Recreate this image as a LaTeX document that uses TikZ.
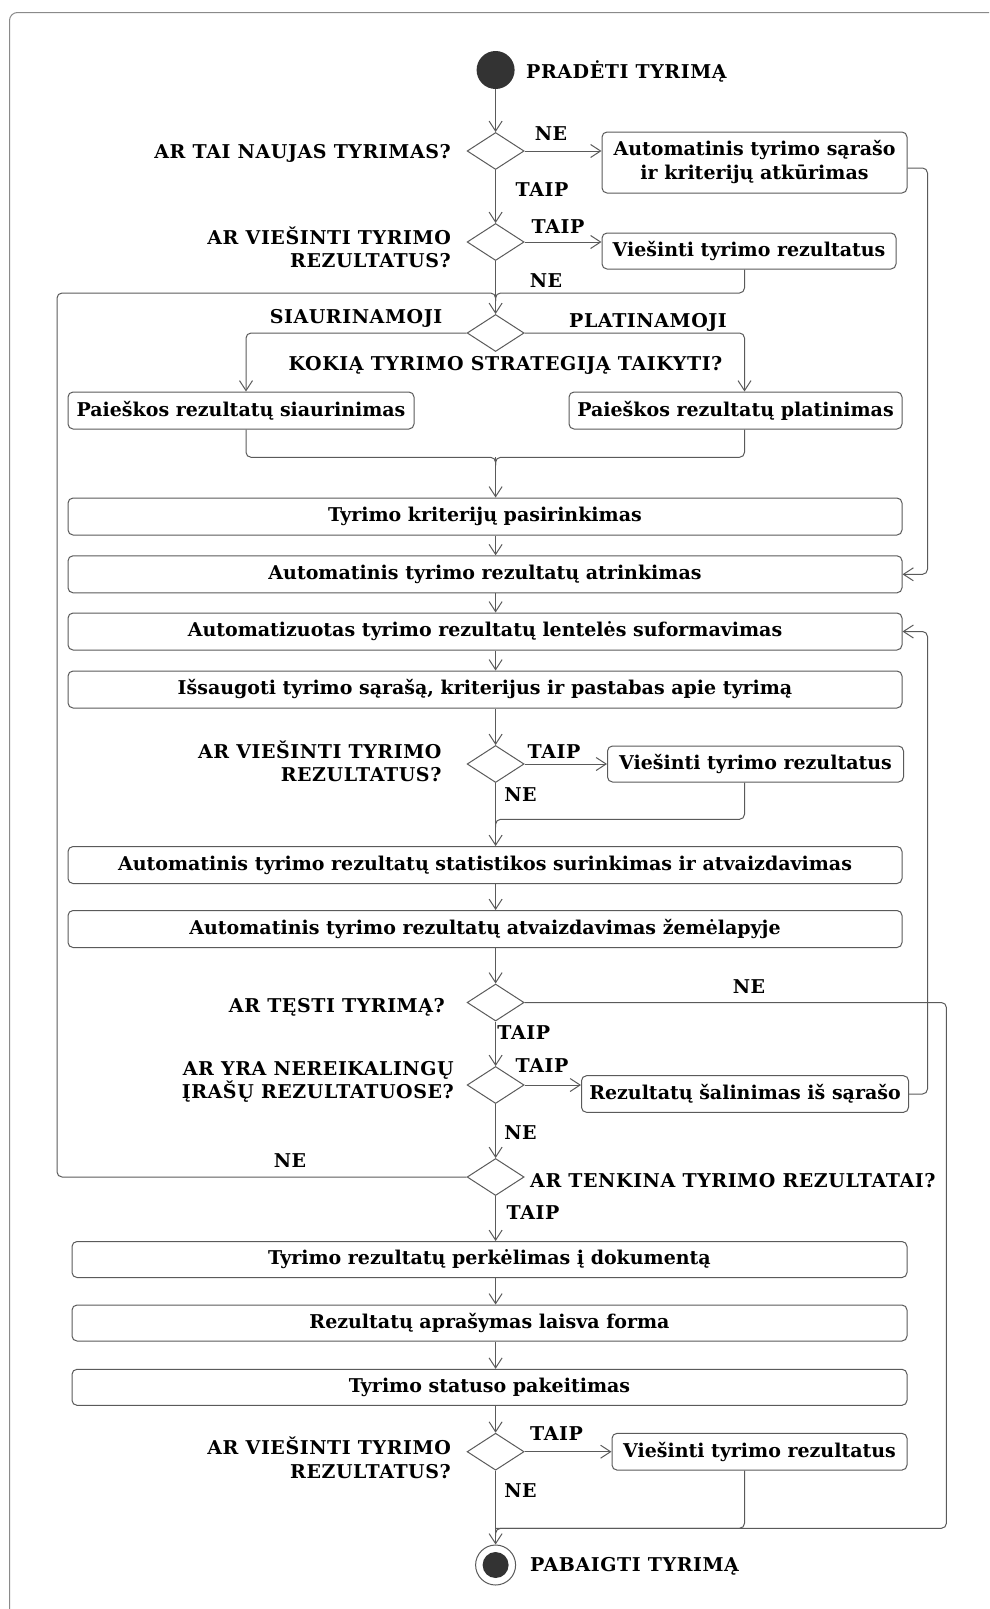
\documentclass[tikz,border=0pt]{standalone}
\usepackage{fontspec}
\setmainfont{DejaVu Serif}
\usetikzlibrary{arrows.meta,shapes.geometric,calc}
\definecolor{linec}{HTML}{5A5A5A}
\definecolor{framec}{HTML}{8A8A8A}
\definecolor{dotc}{HTML}{333333}
\begin{document}
\begin{tikzpicture}[x=1pt,y=-1pt,
  font=\fontsize{19}{24}\selectfont\bfseries,
  act/.style={draw=linec,line width=1pt,rounded corners=5pt,inner sep=0pt,align=center,fill=white},
  dec/.style={draw=linec,line width=1pt,diamond,minimum width=57pt,minimum height=37pt,inner sep=0pt},
  flow/.style={draw=linec,line width=1pt,rounded corners=5pt},
  arr/.style={flow,-{Straight Barb[length=10pt,width=13pt]}},
  lbl/.style={inner sep=0pt,text=black,font=\fontsize{19}{23.5}\selectfont\bfseries\addfontfeature{LetterSpace=3.0}},
]
\useasboundingbox (0,0) rectangle (989,1609);
\begin{scope}
\clip (0,0) rectangle (989,1609);
\draw[draw=framec,line width=1pt,rounded corners=8pt] (9.5,12.5) rectangle (1030,1650);
\end{scope}

% helper coordinates
\coordinate (xR1) at (927.5,0);
\coordinate (xR2) at (946.4,0);
\coordinate (xL) at (57,0);
\coordinate (xB) at (744.5,0);
\coordinate (m1) at (495.6,293);
\coordinate (m2) at (495.6,457.3);
\coordinate (m3) at (495.6,819.3);
\coordinate (m5) at (495.6,1528.3);

% start
\node[circle,fill=dotc,minimum size=38pt,inner sep=0pt] (start) at (495.6,70) {};
\node[lbl,anchor=west] (startlbl) at (526,71.5) {PRADĖTI TYRIMĄ};

% decision 1
\node[dec] (d1) at (495.6,151) {};
\node[lbl,anchor=east] (d1lbl) at (451,153.5) {AR TAI NAUJAS TYRIMAS?};
\node[act,minimum width=305pt,minimum height=61pt] (b1) at (754.5,162.5) {Automatinis tyrimo sąrašo\\ir kriterijų atkūrimas};

% decision 2
\node[dec] (d2) at (495.6,242) {};
\node[lbl,anchor=east,align=right] (d2lbl) at (451,247.5) {AR VIEŠINTI TYRIMO\\REZULTATUS?};
\node[act,minimum width=294pt,minimum height=36pt] (b2) at (749,251) {Viešinti tyrimo rezultatus};

% decision 3
\node[dec] (d3) at (495.6,333) {};
\node[lbl] (l3a) at (356,318) {SIAURINAMOJI};
\node[lbl] (l3b) at (648,322) {PLATINAMOJI};
\node[lbl] (d3lbl) at (505.5,365) {KOKIĄ TYRIMO STRATEGIJĄ TAIKYTI?};
\node[act,minimum width=346pt,minimum height=37pt] (b4) at (241,410.5) {Paieškos rezultatų siaurinimas};
\node[act,minimum width=333pt,minimum height=37pt] (b5) at (735.5,410.5) {Paieškos rezultatų platinimas};

% main boxes
\node[act,minimum width=834pt,minimum height=37pt] (b6) at (485,516.5) {Tyrimo kriterijų pasirinkimas};
\node[act,minimum width=834pt,minimum height=37pt] (b7) at (485,574.3) {Automatinis tyrimo rezultatų atrinkimas};
\node[act,minimum width=834pt,minimum height=37pt] (b8) at (485,631.5) {Automatizuotas tyrimo rezultatų lentelės suformavimas};
\node[act,minimum width=834pt,minimum height=37pt] (b9) at (485,689.5) {Išsaugoti tyrimo sąrašą, kriterijus ir pastabas apie tyrimą};

% decision 4
\node[dec] (d4) at (495.6,764) {};
\node[lbl,anchor=east,align=right] (d4lbl) at (441.6,761.5) {AR VIEŠINTI TYRIMO\\REZULTATUS?};
\node[act,minimum width=296pt,minimum height=36pt] (b10) at (755.5,764) {Viešinti tyrimo rezultatus};

\node[act,minimum width=834pt,minimum height=37pt] (b11) at (485,865) {Automatinis tyrimo rezultatų statistikos surinkimas ir atvaizdavimas};
\node[act,minimum width=834pt,minimum height=37pt] (b12) at (485,929) {Automatinis tyrimo rezultatų atvaizdavimas žemėlapyje};

% decision 5
\node[dec] (d5) at (495.6,1002.5) {};
\node[lbl,anchor=east] (d5lbl) at (445,1007.5) {AR TĘSTI TYRIMĄ?};

% decision 6
\node[dec] (d6) at (495.6,1085) {};
\node[lbl,anchor=east,align=right] (d6lbl) at (454,1082) {AR YRA NEREIKALINGŲ\\ĮRAŠŲ REZULTATUOSE?};
\node[act,minimum width=327pt,minimum height=36.6pt] (b13) at (745,1094) {Rezultatų šalinimas iš sąrašo};

% decision 7
\node[dec] (d7) at (495.6,1177) {};
\node[lbl,anchor=west] (d7lbl) at (530,1181) {AR TENKINA TYRIMO REZULTATAI?};

\node[act,minimum width=835pt,minimum height=36pt] (b14) at (489.5,1259.5) {Tyrimo rezultatų perkėlimas į dokumentą};
\node[act,minimum width=835pt,minimum height=36pt] (b15) at (489.5,1323) {Rezultatų aprašymas laisva forma};
\node[act,minimum width=835pt,minimum height=36pt] (b16) at (489.5,1387.3) {Tyrimo statuso pakeitimas};

% decision 8
\node[dec] (d8) at (495.6,1451.7) {};
\node[lbl,anchor=east,align=right] (d8lbl) at (451,1457.7) {AR VIEŠINTI TYRIMO\\REZULTATUS?};
\node[act,minimum width=295pt,minimum height=36.7pt] (b17) at (759.5,1451.7) {Viešinti tyrimo rezultatus};

% end
\node[circle,draw=linec,line width=1pt,fill=white,minimum size=40pt,inner sep=0pt] (end) at (495.6,1565) {};
\fill[dotc] (end.center) circle (13pt);
\node[lbl,anchor=west] (endlbl) at (530,1566.5) {PABAIGTI TYRIMĄ};

% connectors
\draw[arr] (start) -- (d1);
\draw[arr] (d1.east) -- (d1.east -| b1.west);
\node[lbl] (ne1) at (551,134) {NE};
\draw[arr] ([yshift=-5.5pt]b1.east) -| (b7.east -| xR1) -- (b7.east);
\draw[arr] (d1) -- (d2);
\node[lbl] (taip1) at (542,190) {TAIP};
\draw[arr] (d2.east) -- (d2.east -| b2.west);
\node[lbl] (taip2) at (558,227) {TAIP};
\draw[flow] (b2.south -| xB) |- (m1) -- ++(0,8);
\draw[arr] (d2) -- (d3);
\node[lbl] (ne2) at (546,281) {NE};
\draw[flow] (d7.west) -| (xL |- m1) -- (m1) -- ++(0,8);

\draw[arr] (d3.west) -| ([xshift=5pt]b4.north);
\draw[arr] (d3.east) -| ([xshift=9pt]b5.north);
\draw[flow] ([xshift=5pt]b4.south) |- (m2) -- ++(0,8);
\draw[flow] ([xshift=9pt]b5.south) |- (m2) -- ++(0,8);
\draw[arr] (m2) -- (b6.north -| m2);

\draw[arr] (b6.south -| start) -- (b7.north -| start);
\draw[arr] (b7.south -| start) -- (b8.north -| start);
\draw[arr] (b8.south -| start) -- (b9.north -| start);
\draw[arr] (b9.south -| start) -- (d4.north);
\draw[arr] (d4.east) -- (d4.east -| b10.west);
\node[lbl] (taip4) at (554,751.5) {TAIP};
\draw[flow] (b10.south -| xB) |- (m3) -- ++(0,8);
\draw[arr] (d4.south) -- (b11.north -| start);
\node[lbl] (ne4) at (520.5,795) {NE};
\draw[arr] (b11.south -| start) -- (b12.north -| start);
\draw[arr] (b12.south -| start) -- (d5.north);

\draw[flow] (d5.east) -| (xR2 |- m5) -- (m5) -- ++(0,8);
\node[lbl] (ne5) at (749,987) {NE};
\draw[arr] (d5) -- (d6);
\node[lbl] (taip5) at (523.7,1033) {TAIP};
\draw[arr] (d6.east) -- (d6.east -| b13.west);
\node[lbl] (taip6) at (542,1066) {TAIP};
\draw[arr] (b13.east) -| (b8.east -| xR1) -- (b8.east);
\draw[arr] (d6) -- (d7);
\node[lbl] (ne6) at (520.5,1133) {NE};
\node[lbl] (ne7) at (290,1161) {NE};
\draw[arr] (d7.south) -- (b14.north -| start);
\node[lbl] (taip7) at (533,1213) {TAIP};
\draw[arr] (b14.south -| start) -- (b15.north -| start);
\draw[arr] (b15.south -| start) -- (b16.north -| start);
\draw[arr] (b16.south -| start) -- (d8.north);
\draw[arr] (d8.east) -- (d8.east -| b17.west);
\node[lbl] (taip8) at (556.5,1434) {TAIP};
\draw[flow] (b17.south -| xB) |- (m5);
\draw[arr] (d8) -- (end);
\node[lbl] (ne8) at (520.5,1491) {NE};
\end{tikzpicture}
\end{document}
